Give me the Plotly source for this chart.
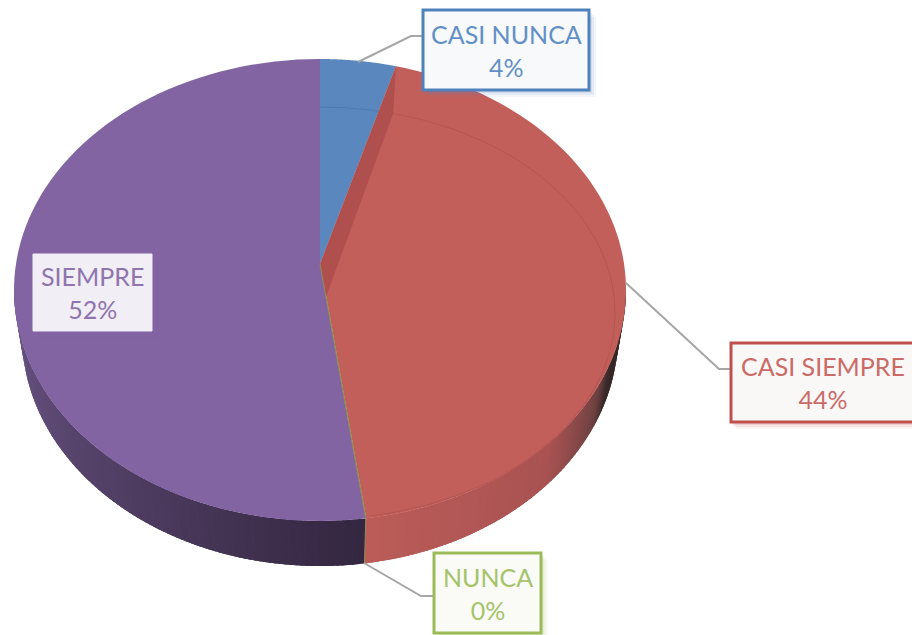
"""Gráfico de torta 3D: frecuencia de respuestas."""
import numpy as np
import plotly.graph_objects as go

# ── datos ──────────────────────────────────────────────
categories = ["CASI NUNCA", "CASI SIEMPRE", "NUNCA", "SIEMPRE"]
values = [4, 44, 0, 52]
top_colors = ["#5a87bd", "#c25f5a", "#9bbb59", "#8364a3"]
border_colors = ["#4f81bd", "#c0504d", "#9bbb59", "#8064a2"]
text_colors = ["#6290c6", "#cb6a67", "#a5c46a", "#8f75ad"]
box_fills = ["#f7f9fb", "#faf8f7", "#fafaf7", "#f1eef5"]
box_borders = ["#4f81bd", "#c0504d", "#9bbb59", "#f1eef5"]

# ── geometría (pixeles de la imagen) ───────────────────
WIDTH, HEIGHT = 912, 635
APEX = (320, 264)
CX, CY, RX, RY = 320, 290, 306, 231
WALL_CY, WALL_RX = 335, 298
IN_CY, IN_RX, IN_RY = 313, 295, 206
PERSPECTIVE = 1.4  # grados que se corre el borde inferior

# caja: x0, y0, x1, y1
BOXES = [(423, 10, 589, 90), (731, 343, 914, 422), (434, 553, 541, 633), (33, 254, 152, 331)]
LEADERS = [
    [(358, 62), (411, 36), (423, 36)],
    [(626, 283), (719, 369), (731, 369)],
    [(364, 563), (421, 596), (434, 596)],
]

# sombreado de la pared: ángulo -> color
RED_WALL = [(90, "#2e2020"), (110, "#3b2a2a"), (115, "#6b4040"), (132, "#a85252"), (172, "#bb5c58")]
PURPLE_WALL = [(172, "#33263f"), (268, "#6a5484")]


def rim(t, cy=CY, rx=RX, ry=RY):
    a = np.radians(t - PERSPECTIVE * np.sin(np.radians(t) / 2) ** 2)
    return CX + rx * np.sin(a), cy - ry * np.cos(a)


def wall_color(t, stops):
    ts = [s[0] for s in stops]
    rgb = [[int(s[1][k:k + 2], 16) for k in (1, 3, 5)] for s in stops]
    return "rgb({},{},{})".format(*[round(np.interp(t, ts, [c[j] for c in rgb])) for j in range(3)])


edges = np.cumsum([0] + values) * 3.6
fig = go.Figure()

# pared lateral
for i in range(len(values)):
    lo, hi = max(edges[i], 90), min(edges[i + 1], 270)
    if hi <= lo:
        continue
    stops = PURPLE_WALL if i == 3 else RED_WALL
    steps = np.arange(lo, hi + 1, 1.0)
    steps[-1] = hi
    for t0, t1 in zip(steps[:-1], steps[1:]):
        ts = np.array([t0, min(t1 + 1.5, hi)])
        xa, ya = rim(ts)
        xb, yb = rim(ts[::-1], cy=WALL_CY, rx=WALL_RX)
        fig.add_trace(go.Scatter(x=list(xa) + list(xb), y=list(ya) + list(yb),
                                 fill="toself", mode="none",
                                 fillcolor=wall_color((t0 + t1) / 2, stops),
                                 hoverinfo="skip", showlegend=False))

# cara superior
for i, name in enumerate(categories):
    ts = np.linspace(edges[i], edges[i + 1], 90)
    xs, ys = rim(ts)
    fig.add_trace(go.Scatter(x=[APEX[0]] + list(xs) + [APEX[0]],
                             y=[APEX[1]] + list(ys) + [APEX[1]],
                             fill="toself", mode="lines" if values[i] == 0 else "none",
                             line=dict(color=top_colors[i], width=1),
                             fillcolor=top_colors[i], name=name,
                             hoverinfo="skip", showlegend=False))

# línea interior del bisel
for i, color in [(0, "#4f79ad"), (1, "#b55552")]:
    ts = np.linspace(edges[i], edges[i + 1] - 1, 90)
    xs, ys = rim(ts, cy=IN_CY, rx=IN_RX, ry=IN_RY)
    fig.add_trace(go.Scatter(x=xs, y=ys, mode="lines", line=dict(color=color, width=1),
                             hoverinfo="skip", showlegend=False))

# cara interior oscura del corte azul/rojo
p1 = rim(edges[1])
p2 = rim(edges[1], cy=IN_CY, rx=IN_RX, ry=IN_RY)
end = rim(edges[2])
p3 = (APEX[0] + 0.13 * (end[0] - APEX[0]), APEX[1] + 0.13 * (end[1] - APEX[1]))
fig.add_trace(go.Scatter(x=[APEX[0], p1[0], p2[0], p3[0], APEX[0]],
                         y=[APEX[1], p1[1], p2[1], p3[1], APEX[1]],
                         fill="toself", mode="none", fillcolor="#b0504e",
                         hoverinfo="skip", showlegend=False))

# filo verde del 0 %
wx, wy = rim(edges[3], cy=WALL_CY, rx=WALL_RX)
fig.add_trace(go.Scatter(x=[APEX[0], end[0], wx], y=[APEX[1], end[1], wy], mode="lines",
                         line=dict(color="#8c8a5a", width=1),
                         hoverinfo="skip", showlegend=False))

# líneas guía
for pts in LEADERS:
    path = "M " + " L ".join(f"{x} {y}" for x, y in pts)
    fig.add_shape(type="path", path=path, line=dict(color="#a6a6a6", width=2))

# sombras y etiquetas
for i, (x0, y0, x1, y1) in enumerate(BOXES):
    for off, op in [(7, 0.07), (5, 0.09), (3, 0.12)]:
        fig.add_shape(type="rect", x0=x0 + off - 2, y0=y0 + off, x1=x1 + off, y1=y1 + off,
                      fillcolor=border_colors[i], opacity=op, line_width=0)
    fig.add_shape(type="rect", x0=x0, y0=y0, x1=x1, y1=y1, fillcolor=box_fills[i],
                  line=dict(color=box_borders[i], width=3 if i < 3 else 1))
    cx = (x0 + x1) / 2 if i != 1 else 822.5
    fig.add_annotation(x=cx, y=(y0 + y1) / 2, xref="x", yref="y", showarrow=False,
                       text=f"{categories[i]}<br>{values[i]}%",
                       font=dict(family="Lato, Carlito, sans-serif", size=25, color=text_colors[i]),
                       align="center")

fig.update_xaxes(range=[0, WIDTH], visible=False, fixedrange=True)
fig.update_yaxes(range=[HEIGHT, 0], visible=False, fixedrange=True)
fig.update_layout(width=WIDTH, height=HEIGHT, margin=dict(l=0, r=0, t=0, b=0),
                  paper_bgcolor="white", plot_bgcolor="white", showlegend=False)

fig.write_html("out.html", config=dict(displayModeBar=False),
               post_script="document.body.style.margin='0';")
